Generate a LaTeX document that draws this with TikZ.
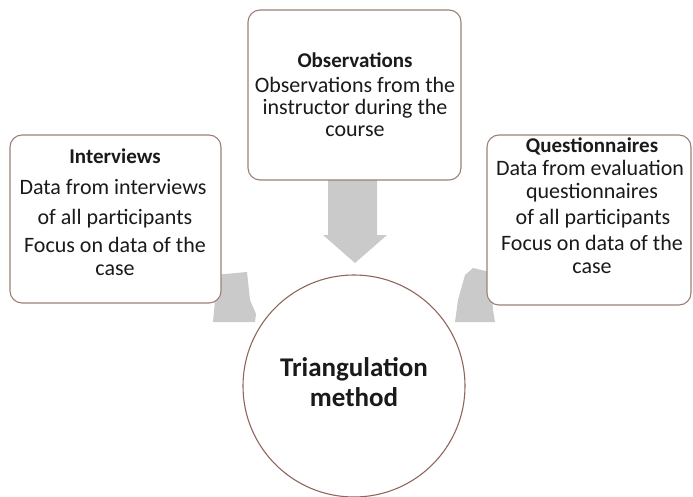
\documentclass[tikz,border=0pt]{standalone}
\usepackage{fontspec}
\setmainfont{Carlito}
\definecolor{boxline}{HTML}{9C8078}
\definecolor{circline}{HTML}{8E665C}
\definecolor{arrowgray}{HTML}{CACACA}
\definecolor{txt}{HTML}{1A1A1A}
\tikzset{
  srcbox/.style={draw=boxline, line width=1.1pt, rounded corners=12pt, fill=white},
  ln/.style={inner sep=0pt, text=txt, font=\fontsize{22}{23}\selectfont, text height=13pt, text depth=3pt, anchor=center},
  hd/.style={ln, font=\fontsize{21}{23}\selectfont\bfseries},
  bigarrow/.style={fill=arrowgray, draw=none},
}
\begin{document}
\begin{tikzpicture}[x=1pt,y=-1pt]
\useasboundingbox (0,0) rectangle (693,497);
% arrows
\fill[bigarrow] (328,175) -- (377,175) -- (377,235) -- (387,235) -- (355,263) -- (323,235) -- (328,235) -- cycle;
\fill[bigarrow] (215,275) -- (247,272) -- (250,300) -- (256,314) -- (255,322) -- (213,322) -- (215,300) -- cycle;
\fill[bigarrow] (465,275) -- (473,268) -- (490,272) -- (493,310) -- (495,322) -- (455,322) -- (458,300) -- cycle;
% boxes
\path[srcbox] (248,10) rectangle (461,180);
\path[srcbox] (10,135) rectangle (221,303);
\path[srcbox] (487,135) rectangle (691,305);
% circle
\node[draw=circline, line width=1.1pt, circle, minimum size=222pt, fill=white, inner sep=0pt] (tri) at (354,386) {};
\node[inner sep=0pt, text=txt, font=\fontsize{27}{30}\selectfont\bfseries, text height=18pt, text depth=6pt] (tri1) at (354,370) {Triangulation};
\node[inner sep=0pt, text=txt, font=\fontsize{27}{30}\selectfont\bfseries, text height=18pt, text depth=6pt] (tri2) at (354,400) {method};
% observations
\node[hd] (o0) at (355,63) {Observations};
\node[ln] (o1) at (355,88) {Observations from the};
\node[ln] (o2) at (355,110) {instructor during the};
\node[ln] (o3) at (355,132) {course};
% interviews
\node[hd] (i0) at (115,159) {Interviews};
\node[ln] (i1) at (113,190) {Data from interviews};
\node[ln] (i2) at (115,219) {of all participants};
\node[ln] (i3) at (115,247) {Focus on data of the};
\node[ln] (i4) at (115,270) {case};
% questionnaires
\node[hd] (q0) at (592,148) {Questionnaires};
\node[ln] (q1) at (590,171) {Data from evaluation};
\node[ln] (q2) at (592,194) {questionnaires};
\node[ln] (q3) at (593,219) {of all participants};
\node[ln] (q4) at (592,245) {Focus on data of the};
\node[ln] (q5) at (592,268) {case};
\end{tikzpicture}
\end{document}
